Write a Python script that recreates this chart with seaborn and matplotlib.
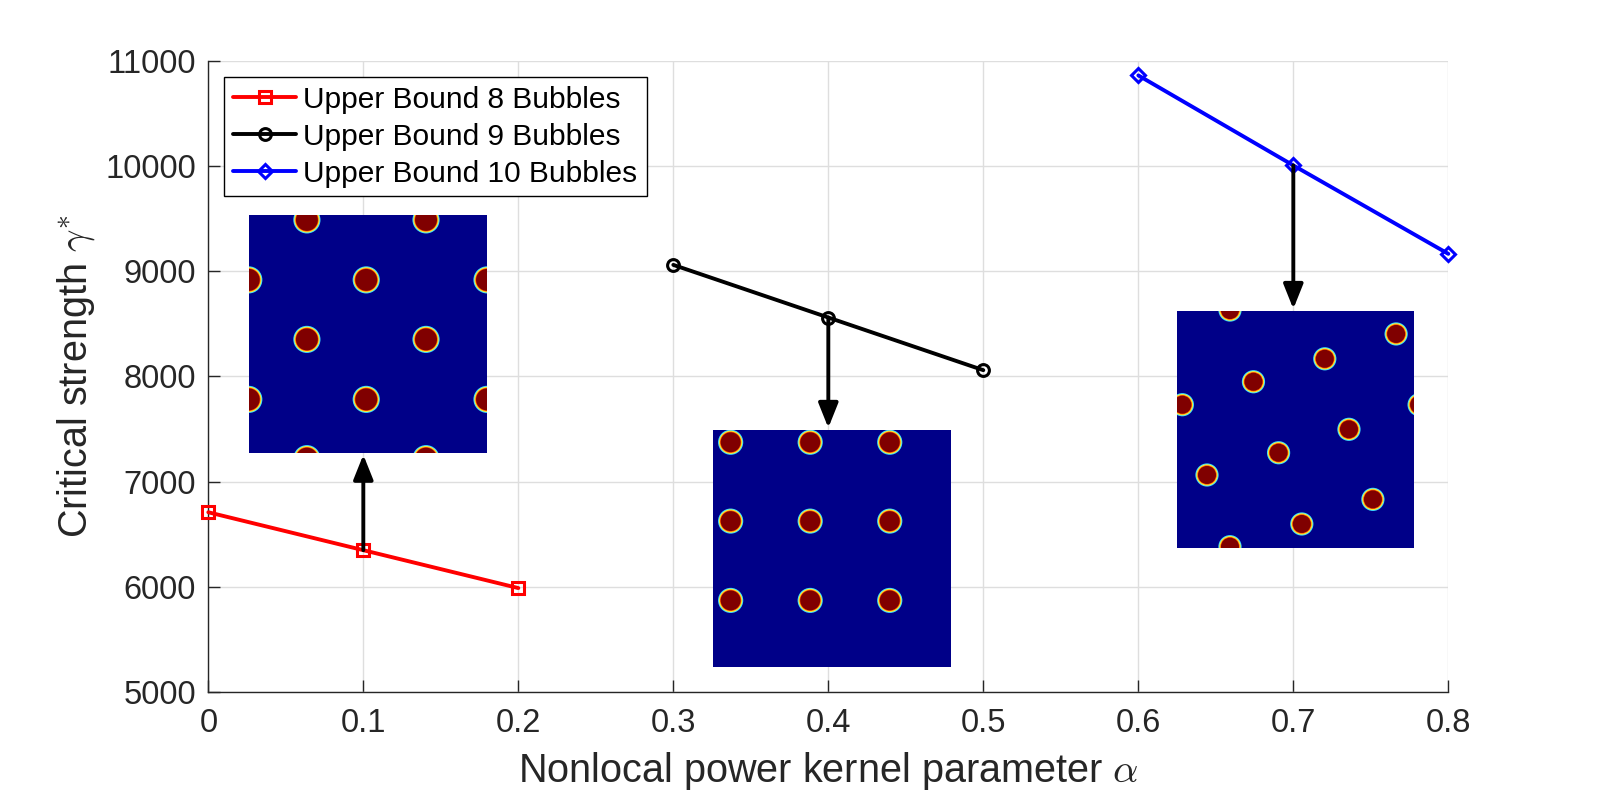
import matplotlib
matplotlib.use("Agg")
import matplotlib.pyplot as plt
from matplotlib.patches import Circle
from matplotlib.patches import ArrowStyle
import seaborn as sns

# ---------------- data ----------------
alpha_8 = [0.0, 0.1, 0.2]
gamma_8 = [6710, 6350, 5990]
alpha_9 = [0.3, 0.4, 0.5]
gamma_9 = [9060, 8560, 8060]
alpha_10 = [0.6, 0.7, 0.8]
gamma_10 = [10860, 10005, 9165]

labels = ["Upper Bound 8 Bubbles", "Upper Bound 9 Bubbles", "Upper Bound 10 Bubbles"]

x_ticks = [0, 0.1, 0.2, 0.3, 0.4, 0.5, 0.6, 0.7, 0.8]
x_tick_labels = ["0", "0.1", "0.2", "0.3", "0.4", "0.5", "0.6", "0.7", "0.8"]
y_ticks = [5000, 6000, 7000, 8000, 9000, 10000, 11000]
y_tick_labels = ["5000", "6000", "7000", "8000", "9000", "10000", "11000"]

# bubble centres in the inset images (fraction of the image, y measured from top)
bubbles_8_x = [0.244, 0.744, 0.0, 0.493, 1.0, 0.244, 0.744, 0.0, 0.493, 1.0, 0.244, 0.744]
bubbles_8_y = [0.022, 0.022, 0.274, 0.274, 0.274, 0.524, 0.524, 0.776, 0.776, 0.776, 1.025, 1.025]
bubbles_9_x = [0.073, 0.408, 0.743, 0.073, 0.408, 0.743, 0.073, 0.408, 0.743]
bubbles_9_y = [0.052, 0.052, 0.052, 0.385, 0.385, 0.385, 0.720, 0.720, 0.720]
bubbles_10_x = [0.222, 0.923, 0.622, 0.321, 0.021, 1.020, 0.724, 0.427, 0.125, 0.825, 0.525, 0.222]
bubbles_10_y = [-0.004, 0.097, 0.202, 0.299, 0.396, 0.396, 0.500, 0.599, 0.693, 0.796, 0.900, 0.996]

# ---------------- style ----------------
sns.set_theme(style="white")
plt.rcParams["font.family"] = ["Liberation Sans", "DejaVu Sans"]
plt.rcParams["mathtext.fontset"] = "cm"

AX_COLOR = "#262626"
GRID_COLOR = "#dedede"

fig = plt.figure(figsize=(16, 7.94), dpi=100)
ax = fig.add_axes([0.1302, 0.1281, 0.775, 0.7955])

series = [
    (alpha_8, gamma_8, "#ff0000", "s", 8.0),
    (alpha_9, gamma_9, "#000000", "o", 8.5),
    (alpha_10, gamma_10, "#0000ff", "D", 7.0),
]
for (xs, ys, col, mk, ms), lab in zip(series, labels):
    sns.lineplot(x=xs, y=ys, ax=ax, color=col, marker=mk, markersize=ms,
                 markerfacecolor="none", markeredgecolor=col, markeredgewidth=2.2,
                 linewidth=2.8, label=lab, zorder=4, clip_on=False)

ax.set_xlim(0, 0.8)
ax.set_ylim(5000, 11000)
ax.set_xticks(x_ticks)
ax.set_xticklabels(x_tick_labels)
ax.set_yticks(y_ticks)
ax.set_yticklabels(y_tick_labels)

ax.grid(True, color=GRID_COLOR, linewidth=1.0, zorder=0)
ax.set_axisbelow(True)
for side in ["top", "right"]:
    ax.spines[side].set_visible(False)
for side in ["left", "bottom"]:
    ax.spines[side].set_color(AX_COLOR)
    ax.spines[side].set_linewidth(1.0)
ax.tick_params(axis="both", direction="in", length=8.9, width=1.0, color=AX_COLOR,
               labelcolor=AX_COLOR, labelsize=23.5, top=False, right=False,
               left=True, bottom=True)
ax.tick_params(axis="x", pad=11)
ax.tick_params(axis="y", pad=9)

ax.set_xlabel(r"Nonlocal power kernel parameter $\alpha$", fontsize=28.5, color=AX_COLOR)
ax.set_ylabel(r"Critical strength $\gamma^{*}$", fontsize=28.5, color=AX_COLOR)
ax.xaxis.set_label_coords(0.5, -0.092)
ax.yaxis.set_label_coords(-0.090, 0.5)

leg = ax.legend(loc="upper left", bbox_to_anchor=(0.0129, 0.9747), borderaxespad=0,
                fontsize=21.5, frameon=True, fancybox=False, framealpha=1,
                edgecolor="#000000", handlelength=2.1, handletextpad=0.25,
                labelspacing=0.30, borderpad=0.3)
leg.get_frame().set_linewidth(1.0)
leg.set_zorder(7)
for t in leg.get_texts():
    t.set_color("#000000")

# ---------------- inset images ----------------
def draw_inset(bounds, bx, by, radius):
    iax = ax.inset_axes(bounds, transform=ax.transData, zorder=6)
    iax.set_facecolor("#000088")
    iax.set_xlim(0, 1)
    iax.set_ylim(1, 0)
    iax.set_xticks([])
    iax.set_yticks([])
    for s in iax.spines.values():
        s.set_visible(False)
    layers = [(0.0, "#3fdcff"), (0.004, "#ffee30"), (0.008, "#ff5a00"), (0.011, "#800000")]
    for cx, cy in zip(bx, by):
        for d, col in layers:
            iax.add_patch(Circle((cx, cy), radius - d, facecolor=col, edgecolor="none"))
    return iax

inset_8 = [0.0261, 7276, 0.1537, 2261]
inset_9 = [0.3258, 5243, 0.1532, 2249]
inset_10 = [0.6252, 6374, 0.1529, 2248]
draw_inset(inset_8, bubbles_8_x, bubbles_8_y, 0.057)
draw_inset(inset_9, bubbles_9_x, bubbles_9_y, 0.053)
draw_inset(inset_10, bubbles_10_x, bubbles_10_y, 0.049)

# ---------------- arrows ----------------
arrow_style = ArrowStyle("-|>", head_length=0.5, head_width=0.2)
arrow_kw = dict(arrowstyle=arrow_style, color="#000000", lw=2.8, mutation_scale=30,
                shrinkA=0, shrinkB=0)
gap = 20
ax.annotate("", xy=(alpha_8[1], inset_8[1] - gap), xytext=(alpha_8[1], gamma_8[1]),
            arrowprops=arrow_kw, zorder=5)
ax.annotate("", xy=(alpha_9[1], inset_9[1] + inset_9[3] + gap), xytext=(alpha_9[1], gamma_9[1]),
            arrowprops=arrow_kw, zorder=5)
ax.annotate("", xy=(alpha_10[1], inset_10[1] + inset_10[3] + gap), xytext=(alpha_10[1], gamma_10[1]),
            arrowprops=arrow_kw, zorder=5)

fig.savefig("out.png", dpi=100, facecolor="white")
